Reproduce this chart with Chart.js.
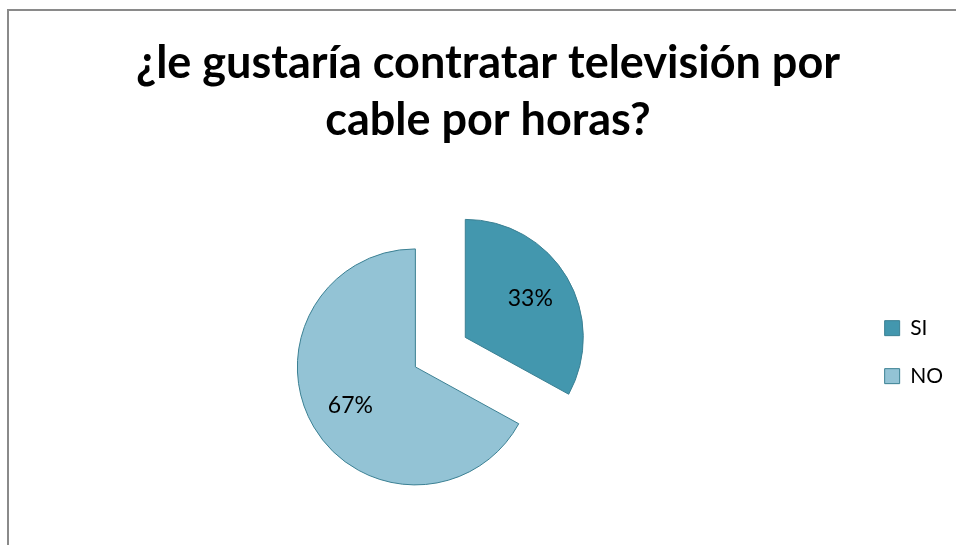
<!DOCTYPE html>
<html>
<head>
<meta charset="utf-8">
<script src="https://cdn.jsdelivr.net/npm/chart.js@4/dist/chart.umd.min.js"></script>
<style>
  html, body { margin: 0; padding: 0; background: #fff; overflow: hidden; }
  #frame {
    position: absolute; left: 7px; top: 9px; width: 2000px; height: 2000px;
    border-left: 2px solid #8a8a8a; border-top: 2px solid #8a8a8a;
  }
  #wrap { position: absolute; left: 0; top: 0; width: 976px; height: 545px; }
</style>
</head>
<body>
<div id="frame"></div>
<div id="wrap"><canvas id="piechart"></canvas></div>
<script>
(function(){
    // Survey answers (percent)
    const answers = ['SI', 'NO'];
    const percents = [33, 67];
    const titleLines = ['¿le gustaría contratar televisión por', 'cable por horas?'];

    const fills = ['#4397ae', '#93c3d5'];
    const edge = '#3b8093';
    const EXPLODE = 29;

    // Push every slice out from the centre along its mid-angle
    const explodePlugin = {
        id: 'explode',
        afterDatasetUpdate(chart, args){
            const meta = chart.getDatasetMeta(args.index);
            meta.data.forEach(arc => {
                const mid = (arc.startAngle + arc.endAngle) / 2;
                arc.x += Math.cos(mid) * EXPLODE;
                arc.y += Math.sin(mid) * EXPLODE;
            });
        }
    };

    // Percent labels inside each slice
    const sliceLabels = {
        id: 'sliceLabels',
        afterDatasetsDraw(chart){
            const ctx = chart.ctx;
            const meta = chart.getDatasetMeta(0);
            ctx.save();
            ctx.font = '23px Lato';
            ctx.fillStyle = '#000';
            ctx.textAlign = 'center';
            ctx.textBaseline = 'middle';
            meta.data.forEach((arc, i) => {
                const mid = (arc.startAngle + arc.endAngle) / 2;
                const r = arc.outerRadius * 0.64;
                ctx.fillText(percents[i] + '%', arc.x + Math.cos(mid) * r, arc.y + Math.sin(mid) * r);
            });
            ctx.restore();
        }
    };

    function init(){
        const ctx = document.getElementById('piechart');
        new Chart(ctx, {
            type: 'pie',
            data: {
                labels: answers,
                datasets: [{
                    data: percents,
                    backgroundColor: fills,
                    borderColor: edge,
                    borderWidth: 1,
                    radius: 118
                }]
            },
            options: {
                responsive: true,
                maintainAspectRatio: false,
                animation: false,
                events: [],
                layout: { padding: { left: 23, right: 23, top: 0, bottom: 0 } },
                plugins: {
                    title: {
                        display: true,
                        text: titleLines,
                        color: '#000',
                        font: { family: 'Lato', size: 45, weight: 'bold', lineHeight: 1.27 },
                        padding: { top: 35, bottom: 10 }
                    },
                    legend: {
                        position: 'right',
                        fullSize: false,
                        labels: {
                            color: '#000',
                            font: { family: 'Lato', size: 21 },
                            boxWidth: 15,
                            boxHeight: 15,
                            padding: 27
                        }
                    },
                    tooltip: { enabled: false }
                }
            },
            plugins: [explodePlugin, sliceLabels]
        });
    }

    if (document.readyState !== 'loading') init(); else document.addEventListener('DOMContentLoaded', init);
})();
</script>
</body>
</html>
